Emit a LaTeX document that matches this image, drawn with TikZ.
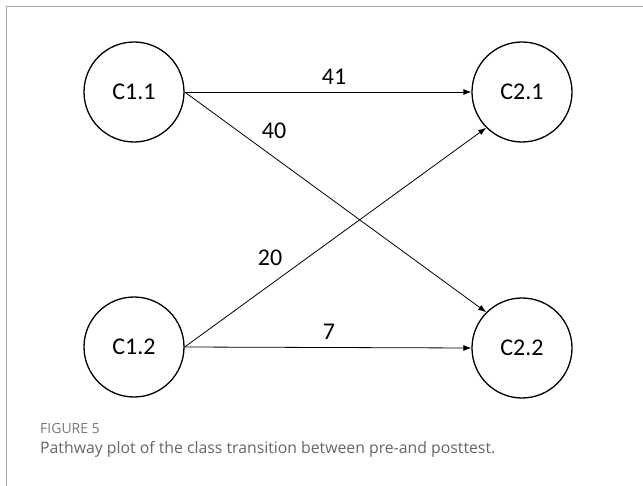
\documentclass[tikz,border=0pt]{standalone}
\usepackage{fontspec}
\setmainfont{Carlito}
\newfontfamily\captionfont{Open Sans}
\usetikzlibrary{arrows.meta}
\definecolor{framegray}{HTML}{A8A8A8}
\definecolor{capgray}{HTML}{666666}
\definecolor{figgray}{HTML}{7A7A7A}
\begin{document}
\begin{tikzpicture}[x=1pt,y=-1pt,
  cls/.style={circle,draw=black,line width=1.3pt,minimum size=100pt,inner sep=0pt,font=\fontsize{24}{28}\selectfont},
  flow/.style={line width=0.8pt,-{Latex[length=8pt,width=6pt]}},
  cnt/.style={font=\fontsize{24}{28}\selectfont,inner sep=0pt}]
\useasboundingbox (0,0) rectangle (643,486);
% panel frame
\draw[framegray,line width=1pt] (643,7) -- (6.5,7) -- (6.5,486);
% latent classes at the two time points
\node[cls] (c11) at (134,92) {C1.1};
\node[cls] (c21) at (522,92) {C2.1};
\node[cls] (c12) at (134,347) {C1.2};
\node[cls] (c22) at (522,348) {C2.2};
% transitions
\draw[flow] (c11.east) -- (c21.west);
\draw[flow] (c11.east) -- (c22.north west);
\draw[flow] (c12.east) -- (c21.south west);
\draw[flow] (c12.east) -- (c22.west);
% counts
\node[cnt] (n41) at (334,77) {41};
\node[cnt] (n40) at (274,131) {40};
\node[cnt] (n20) at (270,258) {20};
\node[cnt] (n7) at (329,332) {7};
% caption
\node[anchor=west,inner sep=0pt,text=figgray,font=\captionfont\fontsize{14}{16}\selectfont] (fig) at (40,428) {FIGURE 5};
\node[anchor=west,inner sep=0pt,text=capgray,font=\captionfont\fontsize{15.8}{18}\selectfont] (cap) at (40,449) {Pathway plot of the class transition between pre-and posttest.};
\end{tikzpicture}
\end{document}
